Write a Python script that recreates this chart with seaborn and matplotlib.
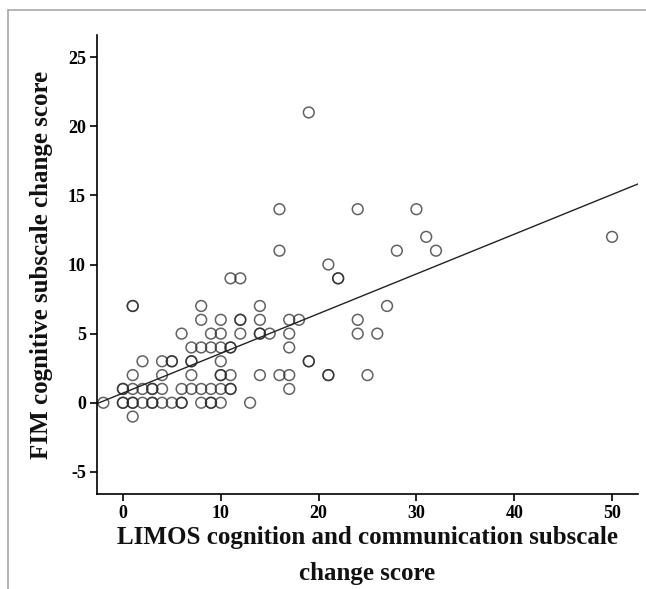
import matplotlib.pyplot as plt
import seaborn as sns
import numpy as np
from matplotlib.lines import Line2D

# Puntuaciones de cambio (una entrada por paciente, se repiten los casos superpuestos)
limos_change = [19,
                16, 24, 30,
                31, 50,
                16, 28, 32,
                21,
                11, 12, 22, 22,
                1, 1, 8, 14, 27,
                8, 10, 12, 12, 14, 17, 18, 24,
                6, 9, 10, 12, 14, 14, 15, 17, 24, 26,
                7, 8, 9, 10, 11, 11, 17,
                2, 4, 5, 5, 7, 7, 10, 19, 19,
                1, 4, 7, 10, 10, 11, 14, 16, 17, 21, 21, 25,
                0, 0, 1, 2, 3, 3, 4, 6, 7, 8, 9, 10, 11, 11, 17,
                -2, 0, 0, 1, 1, 2, 3, 3, 4, 5, 6, 6, 8, 9, 9, 10, 13,
                1]
fim_change = [21,
              14, 14, 14,
              12, 12,
              11, 11, 11,
              10,
              9, 9, 9, 9,
              7, 7, 7, 7, 7,
              6, 6, 6, 6, 6, 6, 6, 6,
              5, 5, 5, 5, 5, 5, 5, 5, 5, 5,
              4, 4, 4, 4, 4, 4, 4,
              3, 3, 3, 3, 3, 3, 3, 3, 3,
              2, 2, 2, 2, 2, 2, 2, 2, 2, 2, 2, 2,
              1, 1, 1, 1, 1, 1, 1, 1, 1, 1, 1, 1, 1, 1, 1,
              0, 0, 0, 0, 0, 0, 0, 0, 0, 0, 0, 0, 0, 0, 0, 0, 0,
              -1]

x_ticks = [0, 10, 20, 30, 40, 50]
y_ticks = [-5, 0, 5, 10, 15, 20, 25]

sns.set_theme(style="ticks")
plt.rcParams['font.family'] = ['Liberation Serif', 'DejaVu Serif']
plt.rcParams['axes.unicode_minus'] = False

fig = plt.figure(figsize=(6.46, 5.89), dpi=100)
ax = fig.add_axes([97 / 646, 1 - 494 / 589, (638 - 97) / 646, (494 - 35) / 589])

# Limites primero: la recta de regresion se extiende a todo el eje
ax.set_xlim(-2.65, 52.65)
ax.set_ylim(-6.6, 26.6)

sns.scatterplot(x=np.array(limos_change), y=np.array(fim_change), ax=ax,
                marker='o', s=60, facecolors='none',
                edgecolor=(0.15, 0.15, 0.15, 0.72), linewidth=1.1)

sns.regplot(x=np.array(limos_change), y=np.array(fim_change), ax=ax,
            scatter=False, ci=None, truncate=False,
            line_kws={'color': '#222222', 'lw': 1.0})

ax.set_xlim(-2.65, 52.65)
ax.set_ylim(-6.6, 26.6)
ax.set_xticks(x_ticks)
ax.set_yticks(y_ticks)

for side in ['top', 'right']:
    ax.spines[side].set_visible(False)
for side in ['left', 'bottom']:
    ax.spines[side].set_color('black')
    ax.spines[side].set_linewidth(1.2)

ax.tick_params(axis='both', direction='out', length=5, width=1.2, color='black',
               labelsize=13, labelcolor='black', pad=3)
for lab in ax.get_xticklabels() + ax.get_yticklabels():
    lab.set_fontweight('bold')

ax.set_xlabel("LIMOS cognition and communication subscale\nchange score",
              fontsize=18, fontweight='bold', color='#111111', labelpad=3,
              linespacing=1.7)
ax.set_ylabel("FIM cognitive subscale change score",
              fontsize=18, fontweight='bold', color='#111111', labelpad=11)

# Marco gris de la figura (solo arriba y a la izquierda)
fig.add_artist(Line2D([8 / 646, 1], [1 - 10 / 589, 1 - 10 / 589],
                      transform=fig.transFigure, color='#a8a8a8', lw=1.2))
fig.add_artist(Line2D([8 / 646, 8 / 646], [0, 1 - 10 / 589],
                      transform=fig.transFigure, color='#a8a8a8', lw=1.2))

plt.savefig('out.png', dpi=100, facecolor='white')
plt.close()
